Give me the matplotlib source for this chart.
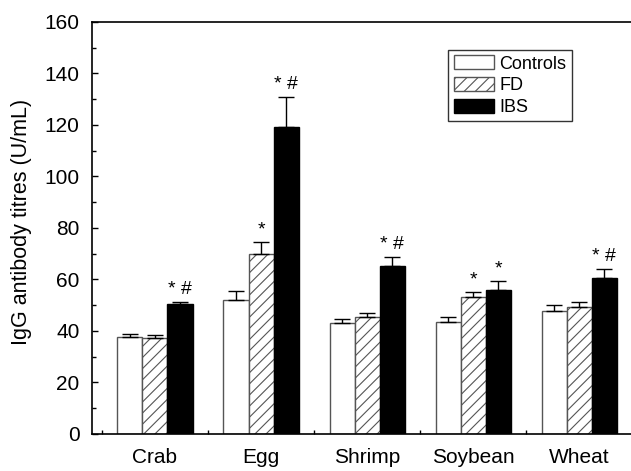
import numpy as np
import matplotlib.pyplot as plt
from matplotlib.ticker import MultipleLocator, FixedLocator

plt.rcParams['font.family'] = ['Liberation Sans', 'DejaVu Sans']
plt.rcParams['hatch.linewidth'] = 0.8
plt.rcParams['hatch.color'] = '#333333'

# data
foods = ['Crab', 'Egg', 'Shrimp', 'Soybean', 'Wheat']
controls = [37.8, 51.9, 43.2, 43.6, 47.9]
controls_err = [1.0, 3.6, 1.6, 1.9, 2.2]
fd = [37.4, 69.8, 45.5, 53.2, 49.4]
fd_err = [1.0, 4.6, 1.5, 1.8, 1.8]
ibs = [50.3, 119.2, 65.1, 55.8, 60.6]
ibs_err = [1.0, 11.8, 3.7, 3.5, 3.4]
# significance marks above each bar (Controls, FD, IBS)
marks = [['', '', '* #'],
         ['', '*', '* #'],
         ['', '', '* #'],
         ['', '*', '*'],
         ['', '', '* #']]

x = np.arange(len(foods))
w = 0.236

fig = plt.figure(figsize=(6.31, 4.71), dpi=100)
ax = fig.add_axes([0.1458, 0.0786, 0.856, 0.8747])

ekw = dict(ecolor='black', elinewidth=1.0, capsize=6, capthick=1.0)
groups = [
    (controls, controls_err, dict(color='white', edgecolor='#555555', label='Controls')),
    (fd, fd_err, dict(color='white', edgecolor='#555555', hatch='///', label='FD')),
    (ibs, ibs_err, dict(color='black', edgecolor='black', label='IBS')),
]
for k, (vals, errs, style) in enumerate(groups):
    pos = x + (k - 1) * w
    ax.bar(pos, vals, w, linewidth=1.0, **style)
    ax.errorbar(pos, vals, yerr=[np.zeros(len(vals)), errs], fmt='none', **ekw)
    for i in range(len(foods)):
        m = marks[i][k]
        if m:
            ax.text(pos[i], vals[i] + errs[i] + 1.5, m, ha='center', va='bottom',
                    fontsize=14)

ax.set_xlim(-0.594, 4.5)
ax.set_ylim(0, 160)
ax.set_xticks(x)
ax.set_xticklabels(foods, fontsize=15)
ax.xaxis.set_minor_locator(FixedLocator(np.arange(-0.5, 5.0, 1.0)))
ax.yaxis.set_major_locator(MultipleLocator(20))
ax.yaxis.set_minor_locator(MultipleLocator(10))
ax.tick_params(axis='y', which='major', direction='in', length=4, width=1, labelsize=15, pad=9)
ax.tick_params(axis='y', which='minor', direction='in', length=3, width=1)
ax.tick_params(axis='x', which='major', length=0, labelsize=15, pad=10)
ax.tick_params(axis='x', which='minor', direction='in', length=3, width=1)
ax.spines['right'].set_visible(False)
for s in ['left', 'bottom', 'top']:
    ax.spines[s].set_linewidth(1.2)

ax.set_ylabel('IgG antibody titres (U/mL)', fontsize=15.5)
ax.yaxis.set_label_coords(-0.112, 0.515)

leg = ax.legend(loc='upper left', bbox_to_anchor=(0.660, 0.932), borderaxespad=0,
                fontsize=13, frameon=True, fancybox=False, edgecolor='black',
                handlelength=2.2, handleheight=0.8, handletextpad=0.33,
                borderpad=0.3, labelspacing=0.25)
leg.get_frame().set_linewidth(1.0)

fig.savefig('out.png', dpi=100)
